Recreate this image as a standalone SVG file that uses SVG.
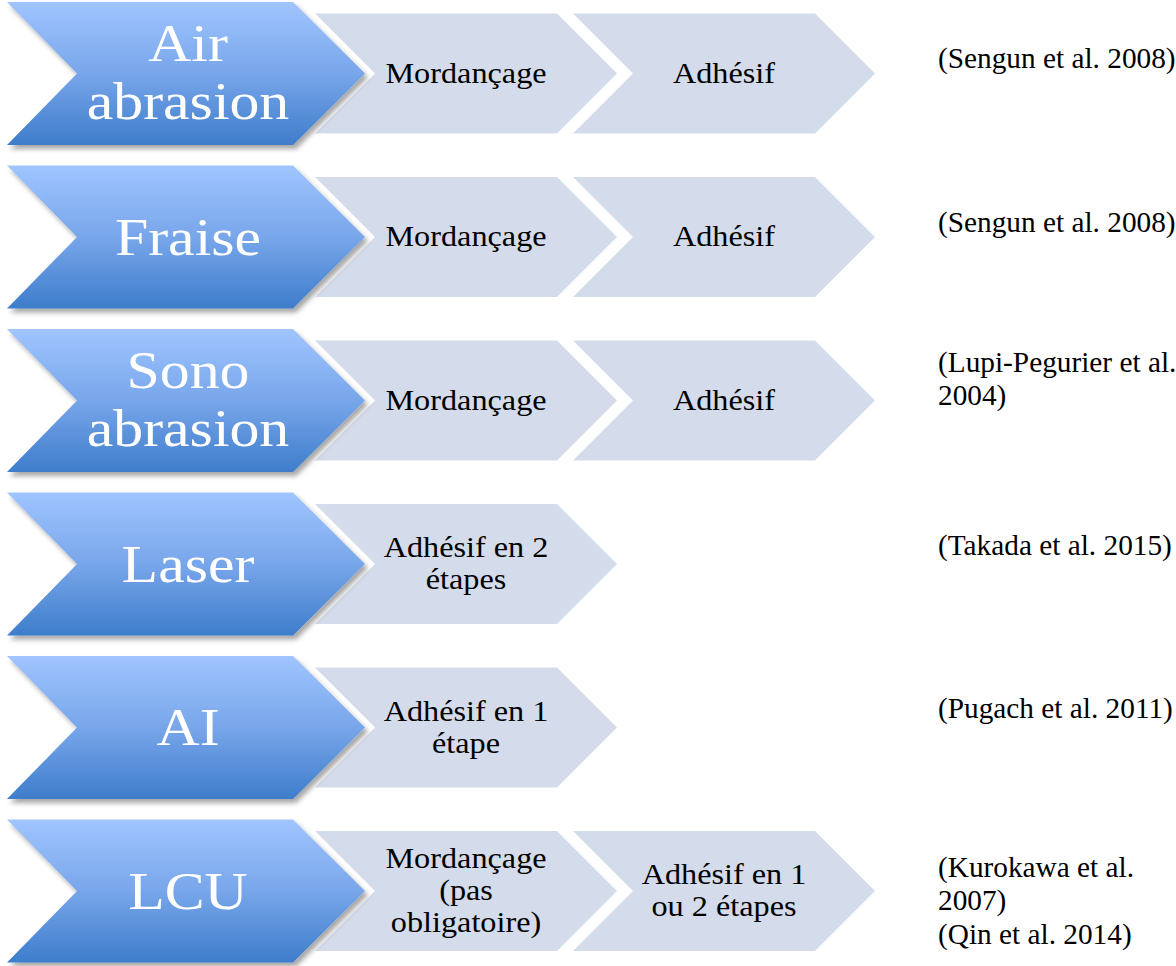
<svg xmlns="http://www.w3.org/2000/svg" width="1176" height="966" viewBox="0 0 1176 966">
<defs>
<linearGradient id="blueGrad" x1="0" y1="0" x2="0" y2="1">
<stop offset="0" stop-color="#A0C5FF"/>
<stop offset="0.5" stop-color="#78A6EA"/>
<stop offset="1" stop-color="#3E7DCB"/>
</linearGradient>
<filter id="shadow" x="-10%" y="-10%" width="125%" height="130%">
<feDropShadow dx="3" dy="4" stdDeviation="2.5" flood-color="#000" flood-opacity="0.35"/>
</filter>
<polygon id="blueShape" points="7,0 293,0 365,71.5 293,143 7,143 77,71.5"/>
<polygon id="grayShape" points="0,-60 242,-60 302,0 242,60 0,60 60,0"/>
</defs>
<style>
.blue{fill:url(#blueGrad);filter:url(#shadow);}
.gray{fill:#D4DBEA;}
.bt{font-family:"Liberation Serif","Times New Roman",serif;font-size:52px;fill:#FFFFFF;text-anchor:middle;}
.gt{font-family:"Liberation Serif","Times New Roman",serif;font-size:28.8px;fill:#000000;text-anchor:middle;}
.ct{font-family:"Liberation Serif","Times New Roman",serif;font-size:29.3px;fill:#000000;}
</style>
<rect width="1176" height="966" fill="#FFFFFF"/>

<!-- Row 1 -->
<g id="row1-gray1"><use href="#grayShape" class="gray" x="315" y="73.5"/><g transform="translate(466 0) scale(1.12 1)"><text class="gt" x="0" y="83">Mordançage</text></g></g>
<g id="row1-gray2"><use href="#grayShape" class="gray" x="573" y="73.5"/><g transform="translate(724 0) scale(1.12 1)"><text class="gt" x="0" y="83">Adhésif</text></g></g>
<g id="row1-blue"><use href="#blueShape" class="blue" x="0" y="2"/><g transform="translate(188 0) scale(1.15 1)"><text class="bt" x="0" y="61">Air</text><text class="bt" x="0" y="119">abrasion</text></g></g>
<g id="row1-ref"><text class="ct" x="938" y="68">(Sengun et al. 2008)</text></g>

<!-- Row 2 -->
<g id="row2-gray1"><use href="#grayShape" class="gray" x="315" y="237"/><g transform="translate(466 0) scale(1.12 1)"><text class="gt" x="0" y="246.5">Mordançage</text></g></g>
<g id="row2-gray2"><use href="#grayShape" class="gray" x="573" y="237"/><g transform="translate(724 0) scale(1.12 1)"><text class="gt" x="0" y="246.5">Adhésif</text></g></g>
<g id="row2-blue"><use href="#blueShape" class="blue" x="0" y="165.5"/><g transform="translate(188 0) scale(1.15 1)"><text class="bt" x="0" y="255">Fraise</text></g></g>
<g id="row2-ref"><text class="ct" x="938" y="232">(Sengun et al. 2008)</text></g>

<!-- Row 3 -->
<g id="row3-gray1"><use href="#grayShape" class="gray" x="315" y="400.5"/><g transform="translate(466 0) scale(1.12 1)"><text class="gt" x="0" y="410">Mordançage</text></g></g>
<g id="row3-gray2"><use href="#grayShape" class="gray" x="573" y="400.5"/><g transform="translate(724 0) scale(1.12 1)"><text class="gt" x="0" y="410">Adhésif</text></g></g>
<g id="row3-blue"><use href="#blueShape" class="blue" x="0" y="329"/><g transform="translate(188 0) scale(1.15 1)"><text class="bt" x="0" y="388">Sono</text><text class="bt" x="0" y="446">abrasion</text></g></g>
<g id="row3-ref"><text class="ct" x="938" y="372">(Lupi-Pegurier et al.</text><text class="ct" x="938" y="405">2004)</text></g>

<!-- Row 4 -->
<g id="row4-gray1"><use href="#grayShape" class="gray" x="315" y="564"/><g transform="translate(466 0) scale(1.12 1)"><text class="gt" x="0" y="557.5">Adhésif en 2</text><text class="gt" x="0" y="589.5">étapes</text></g></g>
<g id="row4-blue"><use href="#blueShape" class="blue" x="0" y="492.5"/><g transform="translate(188 0) scale(1.15 1)"><text class="bt" x="0" y="582">Laser</text></g></g>
<g id="row4-ref"><text class="ct" x="938" y="555">(Takada et al. 2015)</text></g>

<!-- Row 5 -->
<g id="row5-gray1"><use href="#grayShape" class="gray" x="315" y="727.5"/><g transform="translate(466 0) scale(1.12 1)"><text class="gt" x="0" y="721">Adhésif en 1</text><text class="gt" x="0" y="753">étape</text></g></g>
<g id="row5-blue"><use href="#blueShape" class="blue" x="0" y="656"/><g transform="translate(188 0) scale(1.15 1)"><text class="bt" x="0" y="745">AI</text></g></g>
<g id="row5-ref"><text class="ct" x="938" y="718">(Pugach et al. 2011)</text></g>

<!-- Row 6 -->
<g id="row6-gray1"><use href="#grayShape" class="gray" x="315" y="891"/><g transform="translate(466 0) scale(1.12 1)"><text class="gt" x="0" y="868.5">Mordançage</text><text class="gt" x="0" y="900.5">(pas</text><text class="gt" x="0" y="932.5">obligatoire)</text></g></g>
<g id="row6-gray2"><use href="#grayShape" class="gray" x="573" y="891"/><g transform="translate(724 0) scale(1.12 1)"><text class="gt" x="0" y="884.5">Adhésif en 1</text><text class="gt" x="0" y="916.5">ou 2 étapes</text></g></g>
<g id="row6-blue"><use href="#blueShape" class="blue" x="0" y="819.5"/><g transform="translate(188 0) scale(1.15 1)"><text class="bt" x="0" y="909">LCU</text></g></g>
<g id="row6-ref"><text class="ct" x="938" y="877">(Kurokawa et al.</text><text class="ct" x="938" y="910">2007)</text><text class="ct" x="938" y="944">(Qin et al. 2014)</text></g>
</svg>
